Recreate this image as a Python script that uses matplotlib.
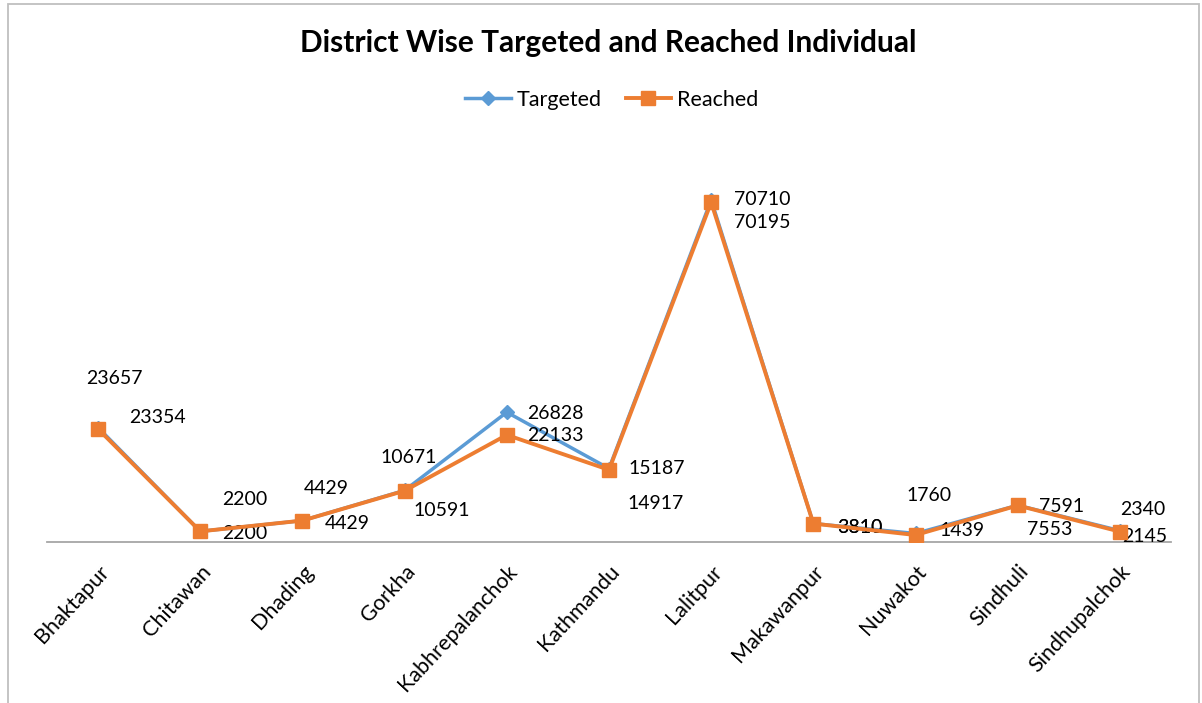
import matplotlib
matplotlib.use("Agg")
import matplotlib.pyplot as plt
from matplotlib.patches import Rectangle

districts = ["Bhaktapur", "Chitawan", "Dhading", "Gorkha", "Kabhrepalanchok", "Kathmandu",
             "Lalitpur", "Makawanpur", "Nuwakot", "Sindhuli", "Sindhupalchok"]
targeted = [23657, 2200, 4429, 10671, 26828, 15187, 70710, 3810, 1760, 7591, 2340]
reached = [23354, 2200, 4429, 10591, 22133, 14917, 70195, 3810, 1439, 7553, 2145]

# label offsets in pixels (dx, dy), as placed in the original chart
t_off = [(16, 49), (44, 32), (24, 32), (4, 33), (49, -1), (48, 0), (51, 0), (46, -4), (13, 38), (44, -1), (23, 21)]
r_off = [(59, 12), (44, -2), (45, -3), (37, -20), (49, -1), (47, -34), (51, -20), (46, -4), (46, 5), (32, -24), (25, -5)]

plt.rcParams['font.family'] = ['Lato', 'DejaVu Sans']
blue = "#5B9BD5"
orange = "#ED7D31"

fig = plt.figure(figsize=(12.02, 7.03), dpi=100)
ax = fig.add_axes([47/1202, (703-542)/703, (1171-47)/1202, (542-155)/703])

x = list(range(len(districts)))
ax.plot(x, targeted, color=blue, lw=2.5, marker="D", ms=7, label="Targeted", zorder=3)
ax.plot(x, reached, color=orange, lw=2.8, marker="s", ms=10, label="Reached", zorder=4)

for i in x:
    ax.annotate(str(targeted[i]), (i, targeted[i]), xytext=t_off[i], textcoords="offset pixels",
                ha="center", va="center", fontsize=14, color="black")
    ax.annotate(str(reached[i]), (i, reached[i]), xytext=r_off[i], textcoords="offset pixels",
                ha="center", va="center", fontsize=14, color="black")

ax.set_xlim(-0.5, len(districts) - 0.5)
ax.set_ylim(0, 80000)
ax.set_xticks(x)
ax.set_xticklabels(districts, rotation=47, ha="right", va="top", rotation_mode="anchor", fontsize=15.5)
ax.tick_params(axis="x", length=0, pad=14)
ax.set_yticks([])
for s in ["top", "right", "left"]:
    ax.spines[s].set_visible(False)
ax.spines["bottom"].set_color("#A6A6A6")
ax.spines["bottom"].set_linewidth(1.3)

fig.text(608/1202, 1 - 43/703, "District Wise Targeted and Reached Individual",
         ha="center", va="center", fontsize=21.5, fontweight="bold")
fig.legend(loc="center", bbox_to_anchor=(612/1202, 1 - 100/703), ncol=2, frameon=False,
           fontsize=15.5, handlelength=2.1, columnspacing=1.1, handletextpad=0.3)

fig.patches.append(Rectangle((8/1202, -0.05), 1191/1202, 1.05 - 4/703, transform=fig.transFigure,
                             fill=False, edgecolor="#BFBFBF", lw=1.3))

fig.savefig("out.png", dpi=100)
